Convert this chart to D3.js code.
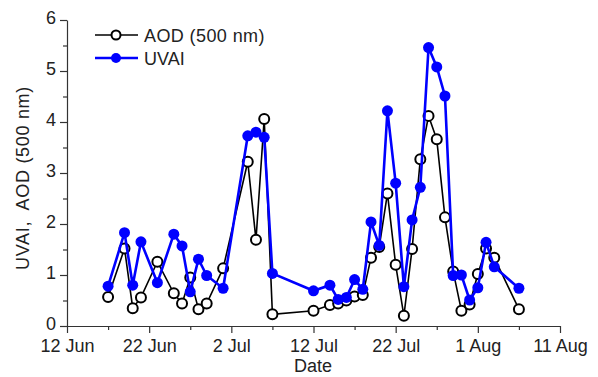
<!DOCTYPE html>
<html>
<head>
<meta charset="utf-8">
<script src="https://cdn.jsdelivr.net/npm/d3@7"></script>
<style>
  html, body { margin: 0; padding: 0; background: #fff; }
  svg { display: block; }
  text { font-family: "Liberation Sans", Arial, sans-serif; fill: #222; }
</style>
</head>
<body>
<svg id="chart" width="598" height="377"></svg>
<script>
const dates = ["2019-06-17","2019-06-19","2019-06-20","2019-06-21","2019-06-23","2019-06-25","2019-06-26","2019-06-27","2019-06-28","2019-06-29","2019-07-01","2019-07-04","2019-07-05","2019-07-06","2019-07-07","2019-07-12","2019-07-14","2019-07-15","2019-07-16","2019-07-17","2019-07-18","2019-07-19","2019-07-20","2019-07-21","2019-07-22","2019-07-23","2019-07-24","2019-07-25","2019-07-26","2019-07-27","2019-07-28","2019-07-29","2019-07-30","2019-07-31","2019-08-01","2019-08-02","2019-08-03","2019-08-06"];
const aod  = [0.57,1.52,0.35,0.56,1.26,0.64,0.44,0.95,0.33,0.44,1.13,3.22,1.69,4.06,0.23,0.30,0.41,0.44,0.50,0.58,0.61,1.34,1.55,2.60,1.20,0.20,1.51,3.27,4.12,3.66,2.13,1.07,0.30,0.42,1.02,1.52,1.34,0.33];
const uvai = [0.78,1.83,0.80,1.65,0.85,1.80,1.57,0.67,1.31,0.99,0.74,3.73,3.80,3.70,1.03,0.69,0.80,0.52,0.56,0.91,0.72,2.04,1.58,4.22,2.80,0.77,2.08,2.72,5.46,5.08,4.51,0.99,1.00,0.51,0.75,1.64,1.16,0.74];
const seriesNames = ["AOD (500 nm)", "UVAI"];
const xDomain = ["2019-06-12", "2019-08-11"];
const yTicks = [0,1,2,3,4,5,6];
const xLabel = "Date";
const yLabel = "UVAI,  AOD (500 nm)";

const parse = d3.utcParse("%Y-%m-%d");
const svg = d3.select("#chart");
const x = d3.scaleUtc().domain(xDomain.map(parse)).range([67, 560]);
const y = d3.scaleLinear().domain([0, 6]).range([326, 20]);

const allDays = d3.utcDay.range(parse(xDomain[0]), d3.utcDay.offset(parse(xDomain[1]), 1));
const majorX = allDays.filter((d, i) => i % 10 === 0);
const minorX = allDays.filter((d, i) => i % 10 === 5);
const fmt = d3.utcFormat("%-d %b");

// X axis
const gx = svg.append("g").attr("transform", "translate(0,326)");
gx.append("g").call(d3.axisBottom(x).tickValues(minorX).tickSize(4).tickFormat(""))
  .call(g => g.select(".domain").remove());
gx.append("g").call(d3.axisBottom(x).tickValues(majorX).tickSize(7).tickSizeOuter(0).tickFormat(fmt).tickPadding(6))
  .call(g => g.selectAll("text").style("font-size", "18px").attr("fill", "#222"));
gx.selectAll("line, path").attr("stroke", "#333").attr("stroke-width", 1.2);

// Y axis
const gy = svg.append("g").attr("transform", "translate(67,0)");
gy.append("g").call(d3.axisLeft(y).tickValues(d3.range(0.5, 6, 1)).tickSize(4).tickFormat(""))
  .call(g => g.select(".domain").remove());
gy.append("g").call(d3.axisLeft(y).tickValues(yTicks).tickSize(7).tickSizeOuter(0).tickFormat(d3.format("d")).tickPadding(4))
  .call(g => g.selectAll("text").style("font-size", "18px").attr("fill", "#222").attr("dy", "0.22em"));
gy.selectAll("line, path").attr("stroke", "#333").attr("stroke-width", 1.2);

// Axis titles
svg.append("text").attr("x", 313).attr("y", 372).attr("text-anchor", "middle")
  .style("font-size", "18px").text(xLabel);
svg.append("text").attr("transform", "translate(29,178) rotate(-90)").attr("text-anchor", "middle")
  .style("font-size", "18px").style("letter-spacing", "0.7px").style("white-space", "pre")
  .attr("xml:space", "preserve").text(yLabel);

const pts = (vals) => dates.map((d, i) => [parse(d), vals[i]]);
const line = d3.line().x(d => x(d[0])).y(d => y(d[1]));

// AOD series
svg.append("path").datum(pts(aod)).attr("d", line)
  .attr("fill", "none").attr("stroke", "#000").attr("stroke-width", 1.6);
svg.append("g").selectAll("circle").data(pts(aod)).join("circle")
  .attr("cx", d => x(d[0])).attr("cy", d => y(d[1])).attr("r", 5)
  .attr("fill", "#fff").attr("stroke", "#000").attr("stroke-width", 2);

// UVAI series
svg.append("path").datum(pts(uvai)).attr("d", line)
  .attr("fill", "none").attr("stroke", "#0000ff").attr("stroke-width", 2.6);
svg.append("g").selectAll("circle").data(pts(uvai)).join("circle")
  .attr("cx", d => x(d[0])).attr("cy", d => y(d[1])).attr("r", 5.5)
  .attr("fill", "#0000ff");

// Legend
const lg = svg.append("g");
lg.append("line").attr("x1", 95).attr("x2", 138).attr("y1", 35).attr("y2", 35).attr("stroke", "#000").attr("stroke-width", 1.6);
lg.append("circle").attr("cx", 116).attr("cy", 35).attr("r", 4.5).attr("fill", "#fff").attr("stroke", "#000").attr("stroke-width", 2);
lg.append("text").attr("x", 144).attr("y", 41.5).style("font-size", "18px").style("letter-spacing", "0.4px").text(seriesNames[0]);
lg.append("line").attr("x1", 95).attr("x2", 138).attr("y1", 58).attr("y2", 58).attr("stroke", "#0000ff").attr("stroke-width", 2.6);
lg.append("circle").attr("cx", 116).attr("cy", 58).attr("r", 5).attr("fill", "#0000ff");
lg.append("text").attr("x", 144).attr("y", 64.5).style("font-size", "18px").text(seriesNames[1]);
</script>
</body>
</html>
